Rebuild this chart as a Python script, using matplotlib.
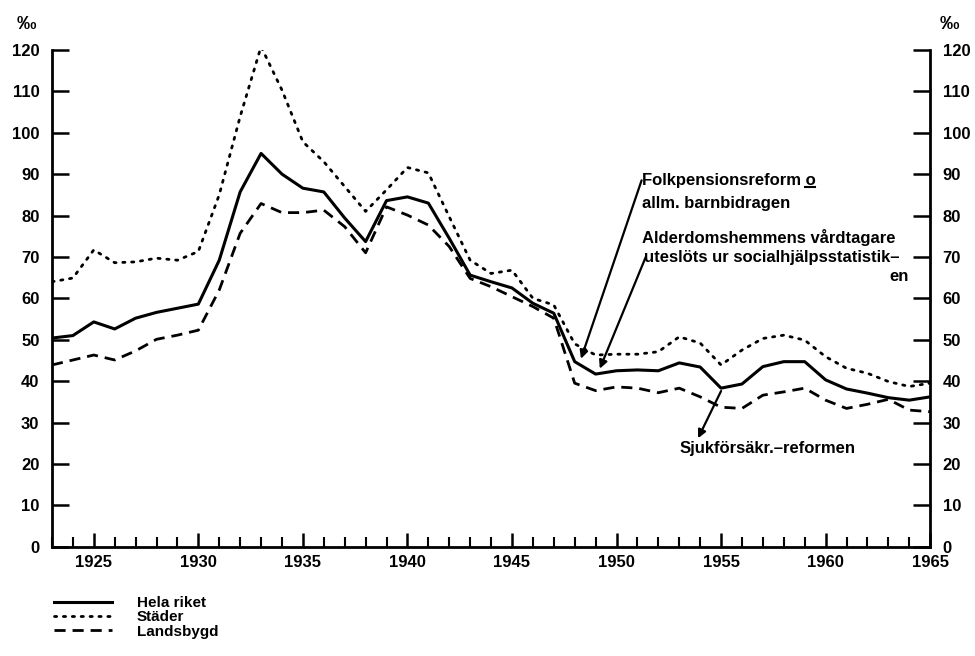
#!/usr/bin/env python3

# Socialhjälpstagare per 1000 inv., 1923-1965: hela riket, städer, landsbygd.

import matplotlib
matplotlib.use("Agg")
import matplotlib.pyplot as plt
from matplotlib.ticker import MultipleLocator
from matplotlib.lines import Line2D

years = list(range(1923, 1966))

hela_riket = [50.4, 51.0, 54.3, 52.6, 55.2, 56.6, 57.6, 58.6, 69.2, 85.7,
              95.0, 90.0, 86.6, 85.7, 79.4, 73.7, 83.6, 84.5, 83.0, 74.5,
              65.6, 64.0, 62.5, 58.8, 56.4, 44.7, 41.7, 42.5, 42.7, 42.5,
              44.4, 43.4, 38.3, 39.3, 43.5, 44.7, 44.7, 40.3, 38.1, 37.1,
              36.0, 35.4, 36.2]

stader = [64.0, 64.9, 71.7, 68.6, 68.8, 69.7, 69.2, 71.3, 85.0, 103.9,
          120.8, 110.3, 97.8, 93.0, 87.0, 81.0, 86.2, 91.6, 90.3, 79.7,
          69.2, 66.0, 66.8, 60.0, 58.4, 49.0, 46.3, 46.5, 46.5, 47.1,
          50.7, 49.2, 43.9, 47.5, 50.3, 51.1, 49.9, 45.9, 43.1, 41.9,
          39.9, 38.7, 39.5]

landsbygd = [43.9, 45.1, 46.3, 45.1, 47.3, 50.1, 51.1, 52.3, 62.0, 75.7,
             82.9, 80.7, 80.7, 81.3, 77.3, 71.0, 82.1, 80.1, 77.7, 72.5,
             64.8, 62.8, 60.4, 58.0, 55.2, 39.5, 37.7, 38.6, 38.3, 37.2,
             38.3, 36.2, 33.7, 33.4, 36.6, 37.4, 38.3, 35.4, 33.4, 34.4,
             35.6, 33.0, 32.6]

serier = ["Hela riket", "Städer", "Landsbygd"]

x_ticks = [1925, 1930, 1935, 1940, 1945, 1950, 1955, 1960, 1965]
y_ticks = list(range(0, 121, 10))

plt.rcParams['font.family'] = ['Liberation Sans', 'DejaVu Sans']
plt.rcParams['font.weight'] = 'bold'

fig = plt.figure(figsize=(9.75, 6.56), dpi=100)
ax = fig.add_axes([0.0533, 0.1666, 0.9007, 0.7573])

ax.plot(years, hela_riket, color='black', lw=2.2, label=serier[0])
ax.plot(years, stader, color='black', lw=2.0, linestyle=(0, (0.8, 2.4)),
        dash_capstyle='round', label=serier[1])
ax.plot(years, landsbygd, color='black', lw=2.0, linestyle=(0, (4, 2.5)),
        label=serier[2])

ax.set_xlim(1923, 1965)
ax.set_ylim(0, 120)
ax.set_xticks(x_ticks)
ax.xaxis.set_minor_locator(MultipleLocator(1))
ax.set_yticks(y_ticks)

for side in ['left', 'right', 'bottom']:
    ax.spines[side].set_linewidth(2)
ax.spines['top'].set_visible(False)

ax.tick_params(axis='y', which='major', direction='in', length=12, width=1.8,
               left=True, right=True, labelleft=True, labelright=True,
               labelsize=12, pad=9)
ax.tick_params(axis='x', which='major', direction='in', length=10, width=1.8,
               labelsize=12, pad=6)
ax.tick_params(axis='x', which='minor', direction='in', length=7, width=1.5)

fig.text(0.027, 0.963, '‰', fontsize=14, fontweight='bold', ha='center', va='center')
fig.text(0.974, 0.963, '‰', fontsize=14, fontweight='bold', ha='center', va='center')

# annotations
fs = 12
arrow = dict(arrowstyle='-|>', color='black', lw=1.6, mutation_scale=12,
             shrinkA=0, shrinkB=0)
ax.annotate('', xy=(1948.3, 45.4), xytext=(1951.2, 88.5), arrowprops=arrow)
t_folk = ax.text(1951.2, 88.5, 'Folkpensionsreform o', fontsize=fs, va='center')
ax.text(1951.2, 82.8, 'allm. barnbidragen', fontsize=fs, va='center')

ax.annotate('', xy=(1949.2, 43.0), xytext=(1951.4, 70.0), arrowprops=arrow)
ax.text(1951.2, 74.8, 'Alderdomshemmens vårdtagare', fontsize=fs, va='center')
ax.text(1951.3, 69.8, 'uteslöts ur socialhjälpsstatistik\u2013', fontsize=fs,
        va='center')
ax.text(1964.0, 65.2, 'en', fontsize=fs, va='center', ha='right')

ax.annotate('', xy=(1953.9, 26.2), xytext=(1955.0, 37.6), arrowprops=arrow)
ax.text(1953.0, 23.8, 'Sjukförsäkr.\u2013reformen', fontsize=fs, va='center')

# underline the "o" (= och) after Folkpensionsreform
fig.canvas.draw()
renderer = fig.canvas.get_renderer()
bb = t_folk.get_window_extent(renderer)
t_o = fig.text(0, 0, 'o', fontsize=fs)
w_o = t_o.get_window_extent(renderer).width
t_o.remove()
inv = fig.transFigure.inverted()
(x0, y0), (x1, _) = inv.transform([(bb.x1 - w_o, bb.y0 + 1), (bb.x1, bb.y0)])
fig.add_artist(Line2D([x0, x1], [y0, y0], color='black', lw=1.5,
                      transform=fig.transFigure))

ax.legend(loc='upper left', bbox_to_anchor=(0.048, 0.103),
          bbox_transform=fig.transFigure, frameon=False, fontsize=11,
          handlelength=3.8, handletextpad=1.6, labelspacing=0.02,
          borderpad=0)

fig.savefig('out.png', dpi=100)
